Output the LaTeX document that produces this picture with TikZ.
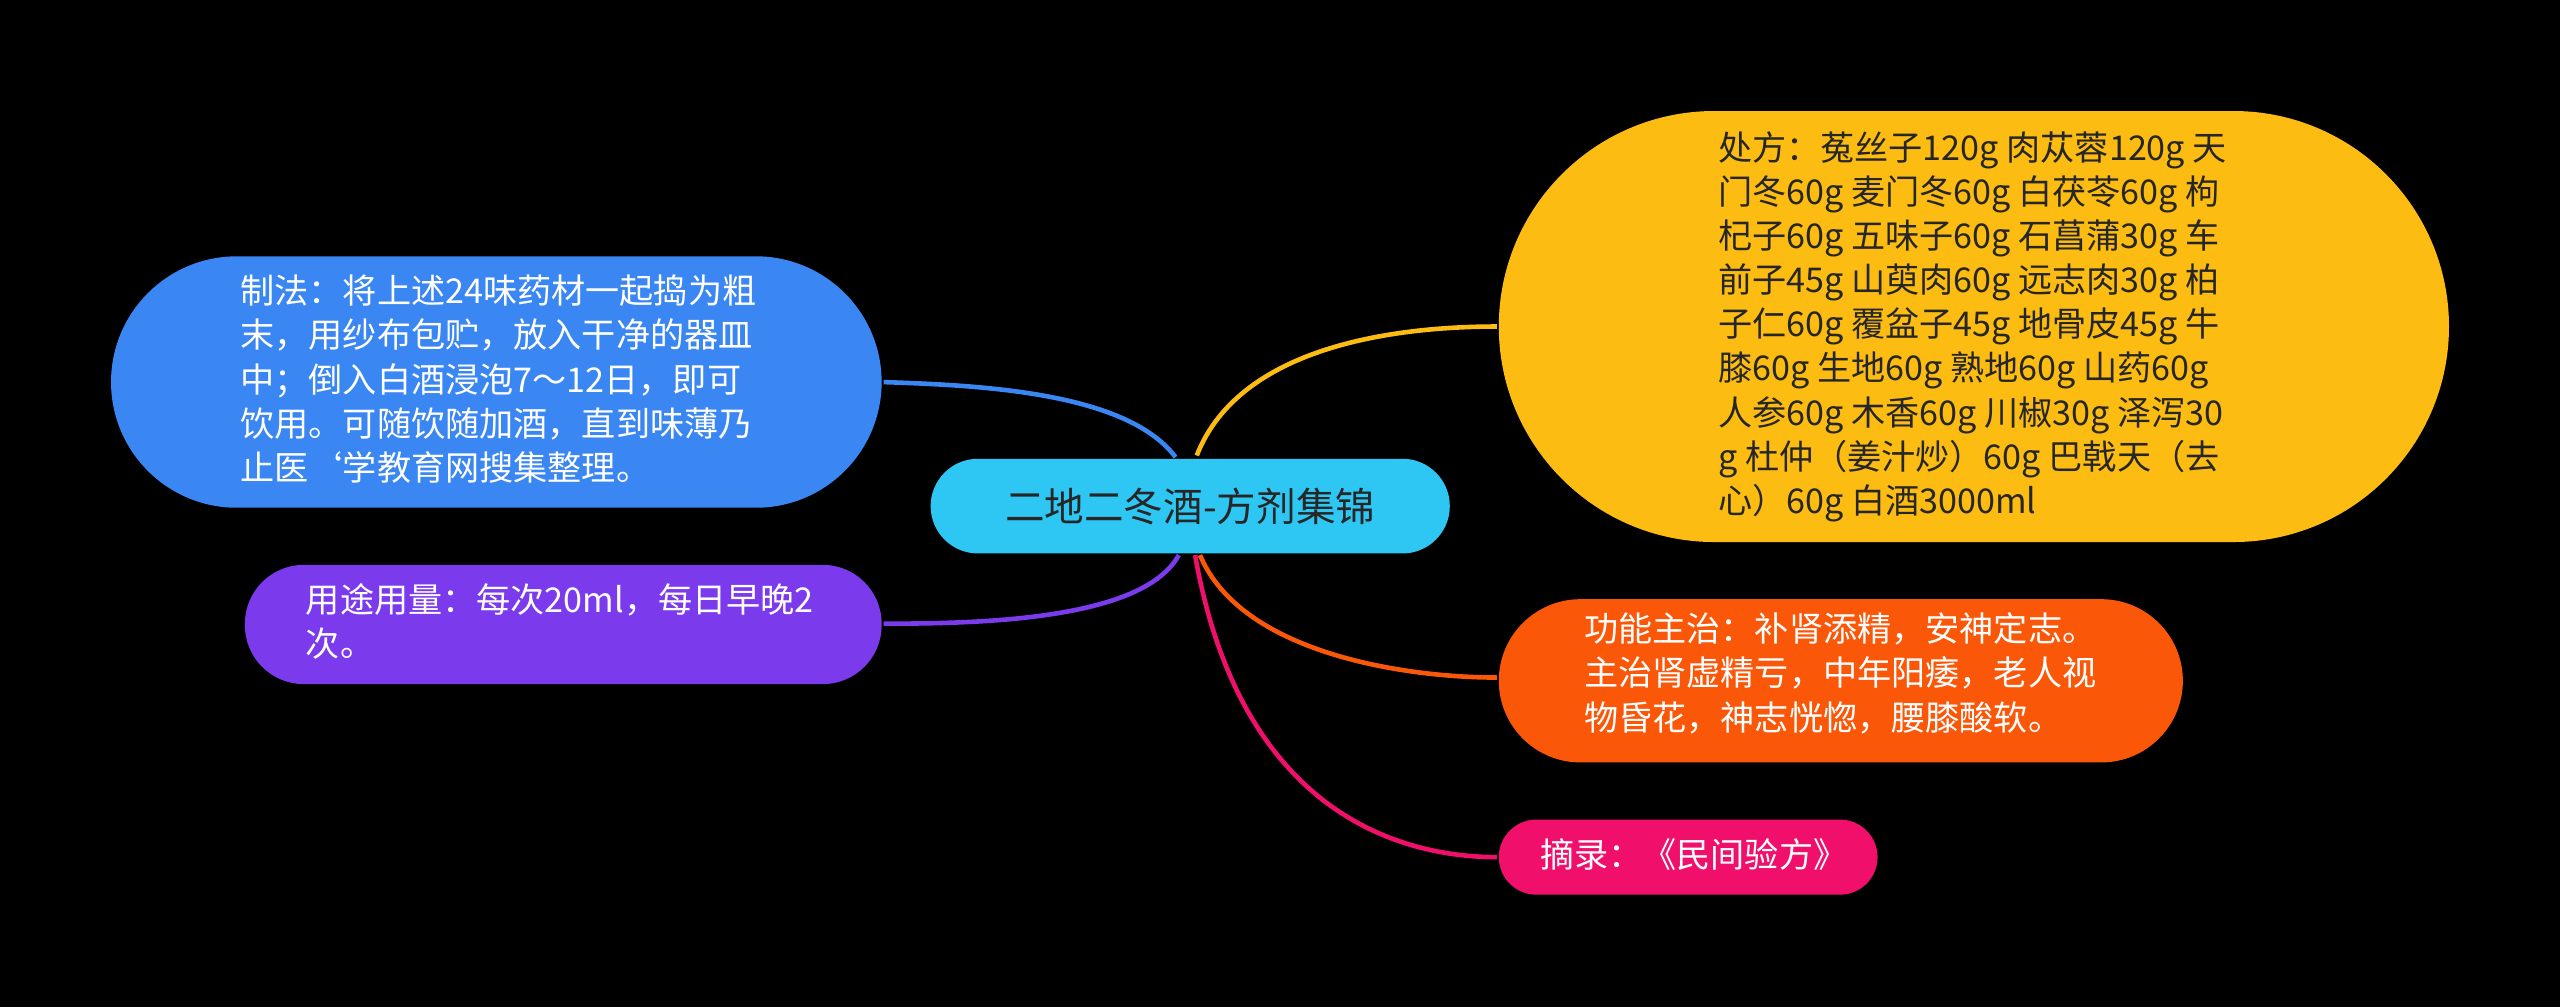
\documentclass[tikz,border=0pt]{standalone}
\usepackage{fontspec}
\setmainfont{Noto Sans CJK SC}
\begin{document}
\begin{tikzpicture}[x=0.02cm,y=-0.02cm,
  box/.style={inner sep=0pt},
  txt/.style={anchor=north west,align=left,inner sep=0pt,font=\fontsize{11.9}{15.4}\selectfont},
  link/.style={line width=1.6pt}]
\definecolor{cblue}{HTML}{3A86F2}
\definecolor{cpurple}{HTML}{7B3AEC}
\definecolor{cyellow}{HTML}{FCBC12}
\definecolor{corange}{HTML}{FB5709}
\definecolor{cpink}{HTML}{F0106C}
\definecolor{ccyan}{HTML}{2EC6F2}
\fill[black] (0,0) rectangle (1568,617);
\useasboundingbox (0,0) rectangle (1568,617);
% boxes
\fill[ccyan,rounded corners=29*0.02cm] (570,281) rectangle (888,339);
\node[font=\fontsize{13.8}{16}\selectfont,text=black!85] (c) at (729,310) {二地二冬酒-方剂集锦};
\fill[cblue,rounded corners=77*0.02cm] (68,157) rectangle (540,311);
\node[box] (zf) at (540,234) {};
\node[txt,text=white] at (147,168) {制法：将上述24味药材一起捣为粗\\末，用纱布包贮，放入干净的器皿\\中；倒入白酒浸泡7～12日，即可\\饮用。可随饮随加酒，直到味薄乃\\止医`学教育网搜集整理。};
\fill[cpurple,rounded corners=36*0.02cm] (150,346) rectangle (540,419);
\node[box] (yt) at (540,382) {};
\node[txt,text=white] at (187,357) {用途用量：每次20ml，每日早晚2\\次。};
\fill[cyellow,rounded corners=132*0.02cm] (918,68) rectangle (1500,332);
\node[box] (cf) at (918,200) {};
\node[txt,text=black!85] at (1052,80) {处方：菟丝子120g 肉苁蓉120g 天\\门冬60g 麦门冬60g 白茯苓60g 枸\\杞子60g 五味子60g 石菖蒲30g 车\\前子45g 山萸肉60g 远志肉30g 柏\\子仁60g 覆盆子45g 地骨皮45g 牛\\膝60g 生地60g 熟地60g 山药60g\\人参60g 木香60g 川椒30g 泽泻30\\g 杜仲（姜汁炒）60g 巴戟天（去\\心）60g 白酒3000ml};
\fill[corange,rounded corners=50*0.02cm] (918,367) rectangle (1337,467);
\node[box] (gn) at (918,415) {};
\node[txt,text=white] at (970,375) {功能主治：补肾添精，安神定志。\\主治肾虚精亏，中年阳痿，老人视\\物昏花，神志恍惚，腰膝酸软。};
\fill[cpink,rounded corners=23*0.02cm] (918,502) rectangle (1150,548);
\node[box] (zl) at (918,525) {};
\node[txt,text=white] at (943,513) {摘录：《民间验方》};
% connectors
\coordinate (a1) at (720,280);
\coordinate (a2) at (722,340);
\coordinate (b1) at (733,279);
\coordinate (b2) at (735,340);
\coordinate (b3) at (732,340);
\draw[link,cblue] (a1) .. controls (690,240) and (600,236) .. (zf);
\draw[link,cpurple] (a2) .. controls (700,380) and (600,382) .. (yt);
\draw[link,cyellow] (b1) .. controls (760,210) and (860,200) .. (cf);
\draw[link,corange] (b2) .. controls (760,400) and (860,415) .. (gn);
\draw[link,cpink] (b3) .. controls (760,500) and (860,525) .. (zl);
\end{tikzpicture}
\end{document}
